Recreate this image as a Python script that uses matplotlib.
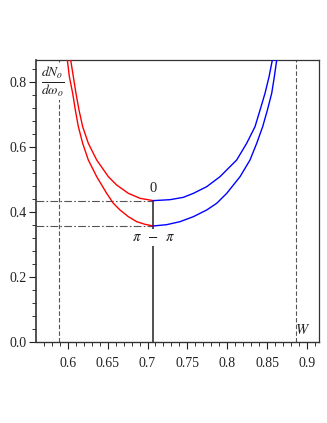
import numpy as np
import matplotlib
matplotlib.use("Agg")
import matplotlib.pyplot as plt

# ---- data ----
x_root = 0.7071
x_left_mark = 0.5894
x_W = 0.886
y_min_0 = 0.435
y_min_pipi = 0.357

# outer curve (pi - pi), red branch x <= x_root
outer_red_x = [0.5995, 0.6020, 0.6062, 0.6095, 0.6133, 0.6187, 0.6258, 0.6363,
               0.6488, 0.6572, 0.6655, 0.6760, 0.6864, 0.6969, 0.7071]
outer_red_y = [0.8677, 0.8164, 0.7651, 0.7138, 0.6626, 0.6113, 0.5600, 0.5087,
               0.4574, 0.4267, 0.4062, 0.3856, 0.3703, 0.3621, 0.3570]
# outer curve blue branch
outer_blue_x = [0.7071, 0.7240, 0.7408, 0.7575, 0.7742, 0.7867, 0.7993, 0.8160,
                0.8285, 0.8369, 0.8444, 0.8503, 0.8557, 0.8590, 0.8620]
outer_blue_y = [0.3570, 0.3610, 0.3703, 0.3856, 0.4062, 0.4267, 0.4574, 0.5087,
                0.5600, 0.6113, 0.6626, 0.7138, 0.7651, 0.8164, 0.8677]
# inner curve (0), red branch
inner_red_x = [0.6037, 0.6070, 0.6103, 0.6141, 0.6187, 0.6258, 0.6363, 0.6509,
               0.6613, 0.6760, 0.6906, 0.7071]
inner_red_y = [0.8677, 0.8164, 0.7651, 0.7138, 0.6626, 0.6113, 0.5600, 0.5087,
               0.4831, 0.4574, 0.4421, 0.4350]
# inner curve blue branch
inner_blue_x = [0.7071, 0.7282, 0.7449, 0.7575, 0.7742, 0.7909, 0.8034, 0.8118,
                0.8243, 0.8348, 0.8411, 0.8473, 0.8524, 0.8565]
inner_blue_y = [0.4350, 0.4379, 0.4451, 0.4574, 0.4779, 0.5087, 0.5395, 0.5600,
                0.6113, 0.6626, 0.7138, 0.7651, 0.8164, 0.8677]

xticks = [0.6, 0.65, 0.7, 0.75, 0.8, 0.85, 0.9]
xtick_labels = ["0.6", "0.65", "0.7", "0.75", "0.8", "0.85", "0.9"]
yticks = [0.0, 0.2, 0.4, 0.6, 0.8]
ytick_labels = ["0.0", "0.2", "0.4", "0.6", "0.8"]

# ---- figure ----
plt.rcParams['font.family'] = ['Liberation Serif', 'DejaVu Serif']
plt.rcParams['mathtext.fontset'] = 'stix'

fig = plt.figure(figsize=(3.27, 4.23), dpi=100)
ax = fig.add_axes([36/327, 81/423, (319-36)/327, (342-60)/423])
ax.set_xlim(0.5602, 0.915)
ax.set_ylim(0.0, 0.8677)

gray = '#555555'
lw_c = 1.0
ax.plot(outer_red_x, outer_red_y, color='#ff0000', lw=lw_c, zorder=3)
ax.plot(inner_red_x, inner_red_y, color='#ff0000', lw=lw_c, zorder=3)
ax.plot(outer_blue_x, outer_blue_y, color='#0000ff', lw=lw_c, zorder=3)
ax.plot(inner_blue_x, inner_blue_y, color='#0000ff', lw=lw_c, zorder=3)

# reference lines
ax.plot([0.5602, x_root], [y_min_0, y_min_0], color=gray, lw=0.8,
        dashes=(7, 2, 1.5, 2), zorder=2)
ax.plot([0.5602, x_root], [y_min_pipi, y_min_pipi], color=gray, lw=0.8,
        dashes=(7, 2, 1.5, 2), zorder=2)
ax.axvline(x_left_mark, color=gray, lw=0.8, dashes=(4, 2), zorder=2)
ax.axvline(x_W, color=gray, lw=0.8, dashes=(4, 2), zorder=2)
ax.plot([x_root, x_root], [0.0, y_min_0], color='#333333', lw=1.2, zorder=2)

# texts
ax.text(x_root, 0.472, "0", ha='center', va='center', fontsize=10.5, color='#222222')
ax.text(x_root, 0.321, r"$\pi\;\;-\;\;\pi$", ha='center', va='center', fontsize=10.5,
        color='#222222', bbox=dict(facecolor='white', edgecolor='none', pad=1.5),
        zorder=4)
ax.text(0.5809, 0.80, r"$\frac{dN_o}{d\omega_o}$", ha='center', va='center',
        fontsize=14, color='#222222',
        bbox=dict(facecolor='white', edgecolor='none', pad=0.5), zorder=4)
ax.text(0.895, 0.037, r"$W$", ha='center', va='center', fontsize=10.5, color='#222222')

# axes styling
ax.set_xticks(xticks)
ax.set_xticklabels(xtick_labels)
ax.set_yticks(yticks)
ax.set_yticklabels(ytick_labels)
ax.set_xticks(np.arange(0.57, 0.915, 0.01), minor=True)
ax.set_yticks(np.arange(0.0, 0.86, 0.04), minor=True)
ax.tick_params(axis='both', which='major', direction='out', length=5, width=0.8,
               labelsize=10, colors='#222222', pad=2)
ax.tick_params(axis='both', which='minor', direction='out', length=3, width=0.7,
               colors='#333333')
ax.tick_params(axis='x', pad=6)
for s in ax.spines.values():
    s.set_color('#333333')
    s.set_linewidth(0.9)
ax.spines['left'].set_linewidth(1.2)
ax.spines['bottom'].set_linewidth(1.0)

fig.savefig("out.png", dpi=100)
